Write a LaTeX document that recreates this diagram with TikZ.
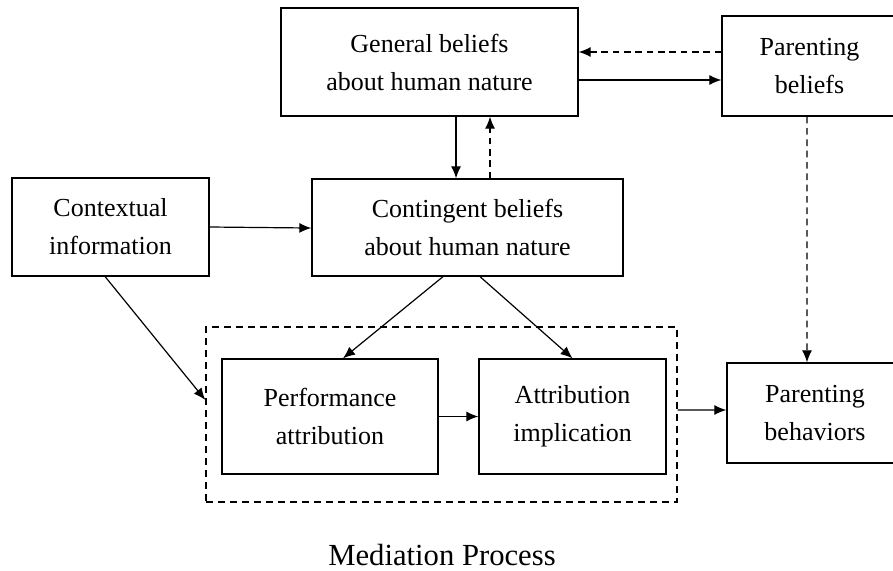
\documentclass[tikz,border=0pt]{standalone}
\usepackage{fontspec}
\setmainfont{Liberation Serif}
\usetikzlibrary{arrows.meta,positioning}

\begin{document}
\begin{tikzpicture}[x=0.75pt, y=-0.75pt,
    box/.style={rectangle, draw, line width=1pt, align=center, inner sep=0pt, font=\fontsize{19.5}{28.5}\selectfont},
    arr/.style={line width=0.9pt, -{Latex[length=9pt,width=7.5pt]}},
    darr/.style={arr, dash pattern=on 5pt off 3.5pt}]
    \useasboundingbox (0,0) rectangle (893,571);

    \node[draw, line width=1pt, dash pattern=on 5.5pt off 3.5pt, minimum width=353.25pt, minimum height=131.25pt] (medbox) at (441.5,414.5) {};
    \node[font=\fontsize{23}{28}\selectfont, anchor=base] (medlabel) at (442,565) {Mediation Process};

    \node[box, minimum width=222.75pt, minimum height=81pt] (general) at (429.5,62) {General beliefs\\about human nature};
    \node[box, minimum width=131.25pt, minimum height=75pt] (pbelief) at (809.5,66) {Parenting\\beliefs};
    \node[box, minimum width=147.75pt, minimum height=73.5pt] (context) at (110.5,227) {Contextual\\information};
    \node[box, minimum width=233.25pt, minimum height=72.75pt] (conting) at (467.5,227.5) {Contingent beliefs\\about human nature};
    \node[box, minimum width=162pt, minimum height=86.25pt] (perf) at (330,416.5) {Performance\\attribution};
    \node[box, minimum width=140.25pt, minimum height=86.25pt] (attr) at (572.5,416.5) {Attribution\\implication};
    \node[box, minimum width=132pt, minimum height=75pt] (behav) at (815,413) {Parenting\\behaviors};

    \draw[arr] ([yshift=-13.5pt]general.east) -- ([yshift=-10.5pt]pbelief.west);
    \draw[darr] ([yshift=10.5pt]pbelief.west) -- ([yshift=7.5pt]general.east);
    \draw[arr] ([xshift=19.9pt]general.south) -- ([xshift=-8.6pt]conting.north);
    \draw[darr] ([xshift=16.9pt]conting.north) -- ([xshift=45.4pt]general.south);
    \draw[arr] (context.east) -- ([yshift=-0.4pt]conting.west);
    \draw[arr] ([xshift=-4pt]context.south) -- ([yshift=10.9pt]medbox.west);
    \draw[arr] ([xshift=-18.4pt]conting.south) -- ([xshift=9.75pt]perf.north);
    \draw[arr] ([xshift=9.4pt]conting.south) -- (attr.north);
    \draw[arr] (perf) -- (attr);
    \draw[arr] ([yshift=3.4pt]medbox.east) -- ([yshift=2.25pt]behav.west);
    \draw[darr] ([xshift=-1.9pt]pbelief.south) -- ([xshift=-6pt]behav.north);
\end{tikzpicture}
\end{document}
